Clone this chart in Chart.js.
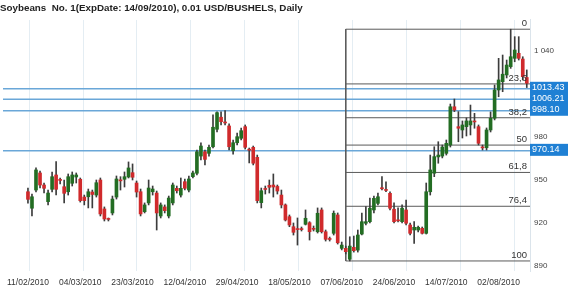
<!DOCTYPE html>
<html>
<head>
<meta charset="utf-8">
<script src="https://cdn.jsdelivr.net/npm/chart.js@4.4.1/dist/chart.umd.min.js"></script>
<style>
  html, body { margin: 0; padding: 0; background: #fff; }
</style>
</head>
<body>
<canvas id="chart" width="570" height="290"></canvas>
<script>
// Titulo y etiquetas
const chartTitle = 'Soybeans  No. 1(ExpDate: 14/09/2010), 0.01 USD/BUSHELS, Daily';
const dateLabels = ['11/02/2010','04/03/2010','23/03/2010','12/04/2010','29/04/2010','18/05/2010','07/06/2010','24/06/2010','14/07/2010','02/08/2010'];
const dateIdx = [0,13,26,39,52,65,78,91,104,117];
const gridIdx = [0.4,13.7,27.1,40.5,53.9,67.3,80.8,94.2,107.6,121.0];
const yTicks = [890,920,950,980,1040];

// Velas diarias (una por sesion)
const opens = [941.6,930.1,942.8,954.7,946.3,934.7,943.3,953.3,949.8,945.1,
  941.6,947.5,951.9,950.3,937.9,938.1,941.4,939.3,949.8,929.6,
  922.6,926.8,937.9,949.5,950.3,951.9,954.9,947.7,941.6,927.7,
  933.8,941.6,940.7,924.7,931.0,924.7,933.8,944.0,939.3,948.6,
  942.8,952.1,954.5,966.5,969.5,968.4,973.0,985.2,993.6,989.9,
  987.5,970.2,975.8,978.9,987.0,970.9,972.6,965.6,934.0,943.4,
  946.1,946.3,945.3,939.3,932.4,924.2,917.2,915.5,915.5,918.9,
  920.0,915.7,913.7,928.9,913.7,908.6,912.6,925.4,902.1,902.1,
  894.5,902.8,900.9,912.1,919.6,920.7,928.9,933.5,944.0,942.8,
  940.5,929.4,921.5,920.7,928.9,918.4,914.9,914.9,916.1,912.6,
  941.6,954.5,965.9,966.5,968.4,974.2,1000.9,987.0,984.7,987.0,
  988.2,990.6,987.0,972.5,972.3,984.7,992.9,1012.6,1018.4,1023.1,
  1028.9,1034.7,1038.2,1034.2,1021.3];
const highs = [944.2,940.0,958.2,956.1,947.7,942.8,955.4,962.6,951.2,949.8,
  954.0,955.4,954.7,951.2,939.3,943.5,942.8,949.8,951.2,931.0,
  923.3,938.6,952.6,952.1,955.4,962.4,961.0,949.1,943.5,933.8,
  949.8,945.6,942.1,933.8,932.4,938.6,947.7,945.6,951.2,950.5,
  952.6,956.1,970.7,975.8,970.7,974.2,995.2,997.3,997.3,998.2,
  988.9,977.7,982.6,986.1,988.2,972.1,973.5,967.2,944.2,945.6,
  949.8,954.0,946.3,942.8,933.1,925.4,919.8,923.3,917.0,928.9,
  920.7,917.7,930.3,930.3,914.9,910.0,928.2,926.8,906.5,903.7,
  910.2,910.7,914.9,926.8,931.2,937.2,938.6,940.7,952.1,948.6,
  941.6,933.8,930.3,932.4,935.8,919.8,920.7,917.7,917.0,947.7,
  967.2,973.0,976.5,974.2,977.7,1002.8,1006.3,997.5,991.0,993.1,
  1002.1,996.3,988.2,974.2,986.1,997.3,1016.1,1034.7,1037.0,1033.5,
  1055.0,1049.8,1049.8,1035.8,1026.6];
const lows = [933.7,924.7,941.4,944.2,940.7,932.4,941.4,939.3,947.0,933.8,
  939.3,945.6,947.7,934.4,932.4,930.3,930.3,937.9,924.7,921.2,
  921.2,925.4,936.5,942.8,944.9,951.2,949.8,937.9,924.7,926.8,
  932.4,939.3,914.9,923.3,926.8,923.3,932.4,940.7,937.9,942.8,
  941.4,951.2,953.3,963.8,960.3,966.5,972.1,983.3,988.2,988.2,
  970.7,967.9,974.2,977.7,971.4,961.7,960.3,933.8,930.3,940.0,
  940.7,937.9,940.0,930.3,921.2,917.2,911.4,904.4,914.2,918.4,
  907.9,914.2,912.8,912.8,907.2,907.2,911.4,905.1,901.0,898.2,
  893.3,899.5,899.5,911.4,918.4,919.8,926.8,932.4,942.8,941.6,
  928.9,919.8,920.5,919.8,918.4,911.4,905.6,913.5,912.1,912.1,
  939.3,952.1,961.5,965.2,967.2,972.8,997.5,976.5,979.1,980.5,
  981.2,985.9,974.2,970.7,970.7,983.3,991.7,1007.9,1011.4,1021.0,
  1027.7,1032.3,1033.5,1019.6,1014.3];
const closes = [936.3,938.1,956.8,946.3,944.0,940.7,952.1,943.3,949.5,940.5,
  952.1,953.3,953.3,935.4,935.4,941.6,939.7,947.9,926.1,922.6,
  922.3,936.5,950.5,949.2,952.1,958.2,951.7,941.4,926.1,932.4,
  944.2,943.5,926.8,932.4,928.4,937.2,946.3,942.3,944.0,944.0,
  950.5,954.7,969.5,973.5,964.2,972.6,986.6,996.8,990.5,989.6,
  973.0,975.8,980.0,984.2,972.6,970.6,961.5,935.4,942.3,943.2,
  944.7,944.9,942.1,932.4,921.9,918.4,913.3,915.2,915.2,923.1,
  913.7,915.4,926.6,913.7,908.4,908.3,926.6,906.0,904.4,899.8,
  903.7,900.5,911.4,920.7,920.7,930.1,937.0,938.1,943.7,942.5,
  930.1,920.7,921.3,930.1,919.6,912.6,916.8,916.8,912.6,941.6,
  956.8,966.1,967.2,972.8,975.4,1000.9,998.6,985.9,988.2,991.0,
  991.0,990.3,975.4,972.2,984.7,992.9,1012.6,1019.6,1023.6,1030.0,
  1035.8,1040.5,1034.7,1021.9,1017.3];

// Fibonacci y lineas de precio
const fibHigh = 1055.0;
const fibLow = 893.3;
const fibStart = 79;
const fibRatios = [0, 23.6, 38.2, 50, 61.8, 76.4, 100];
const fibTexts = ['0','23,6','38,2','50','61,8','76,4','100'];
const priceLines = [1013.43, 1006.21, 998.10, 970.14];

const xMin = -6.2, xMax = 124.8;
const fibLevels = fibRatios.map(r => fibHigh - r / 100 * (fibHigh - fibLow));
const isUp = closes.map((c, i) => c >= opens[i]);

const datasets = [
  {
    type: 'bar',
    data: opens.map((o, i) => ({x: i, y: [o, closes[i]]})),
    backgroundColor: isUp.map(u => u ? '#236d23' : '#d02a2c'),
    borderWidth: 0,
    barThickness: 3,
    minBarLength: 1,
    grouped: false,
    order: 1
  },
  {
    type: 'bar',
    data: highs.map((h, i) => ({x: i, y: [lows[i], h]})),
    backgroundColor: '#3c3c3c',
    borderWidth: 0,
    barThickness: 1,
    grouped: false,
    order: 2
  }
];

fibLevels.forEach(v => {
  datasets.push({
    type: 'line',
    data: [{x: fibStart, y: v}, {x: xMax, y: v}],
    borderColor: '#5a5a5a',
    borderWidth: 1,
    pointRadius: 0,
    order: 3
  });
});
datasets.push({
  type: 'line',
  data: [{x: fibStart, y: fibHigh}, {x: fibStart, y: fibLow}],
  borderColor: '#5a5a5a',
  borderWidth: 1,
  pointRadius: 0,
  order: 3
});
priceLines.forEach(v => {
  datasets.push({
    type: 'line',
    data: [{x: xMin, y: v}, {x: xMax, y: v}],
    borderColor: '#6aa7d8',
    borderWidth: 1.5,
    pointRadius: 0,
    clip: false,
    order: 3
  });
});

// Etiquetas fibo y cajas azules de precio
const overlay = {
  id: 'overlay',
  afterDraw(chart) {
    const {ctx, chartArea} = chart;
    const y = chart.scales.y;
    ctx.save();
    ctx.font = '9.5px "Liberation Sans"';
    ctx.fillStyle = '#333';
    ctx.textAlign = 'right';
    ctx.textBaseline = 'bottom';
    fibLevels.forEach((v, k) => {
      ctx.fillText(fibTexts[k], chartArea.right - 3, y.getPixelForValue(v) - 1);
    });
    ctx.font = '9px "Liberation Sans"';
    ctx.textAlign = 'left';
    ctx.textBaseline = 'middle';
    priceLines.forEach(v => {
      const py = y.getPixelForValue(v);
      ctx.fillStyle = '#1f80d4';
      ctx.fillRect(chartArea.right, py - 7, 38, 12);
      ctx.fillStyle = '#fff';
      ctx.fillText(v.toFixed(2), chartArea.right + 2, py - 1);
    });
    ctx.restore();
  }
};

new Chart(document.getElementById('chart'), {
  type: 'bar',
  data: { datasets: datasets },
  options: {
    responsive: false,
    animation: false,
    layout: { padding: 0, autoPadding: false },
    plugins: {
      legend: { display: false },
      tooltip: { enabled: false },
      title: {
        display: true,
        text: chartTitle,
        align: 'start',
        color: '#222',
        font: { family: 'Liberation Sans', size: 9.8, weight: 'bold' },
        padding: { top: 2.5, bottom: 5.7 }
      }
    },
    scales: {
      x: {
        type: 'linear',
        min: xMin,
        max: xMax,
        offset: false,
        afterBuildTicks: s => { s.ticks = dateIdx.map(v => ({value: v})); },
        afterFit: s => { s.height = 19; },
        grid: { display: false, drawTicks: false, offset: false },
        border: { display: false },
        ticks: {
          autoSkip: false,
          maxRotation: 0,
          padding: 7,
          color: '#333',
          font: { family: 'Liberation Sans', size: 8.5 },
          callback: (v) => dateLabels[dateIdx.indexOf(v)]
        }
      },
      xg: {
        type: 'linear',
        position: 'bottom',
        min: xMin,
        max: xMax,
        offset: false,
        afterBuildTicks: s => { s.ticks = gridIdx.map(v => ({value: v})); },
        afterFit: s => { s.height = 0; },
        grid: { color: '#e4edf3', drawTicks: false, offset: false },
        border: { display: false },
        ticks: { display: false }
      },
      y: {
        type: 'linear',
        position: 'right',
        min: 886.3,
        max: 1061.46,
        afterBuildTicks: s => { s.ticks = yTicks.map(v => ({value: v})); },
        afterFit: s => { s.width = 40; },
        grid: { display: false, drawTicks: false },
        border: { display: true, color: '#dbe4eb' },
        ticks: {
          padding: 4,
          color: '#444',
          font: { family: 'Liberation Sans', size: 8 },
          callback: v => String(v).replace(/\B(?=(\d{3})+(?!\d))/g, ' ')
        }
      }
    }
  },
  plugins: [overlay]
});
</script>
</body>
</html>
